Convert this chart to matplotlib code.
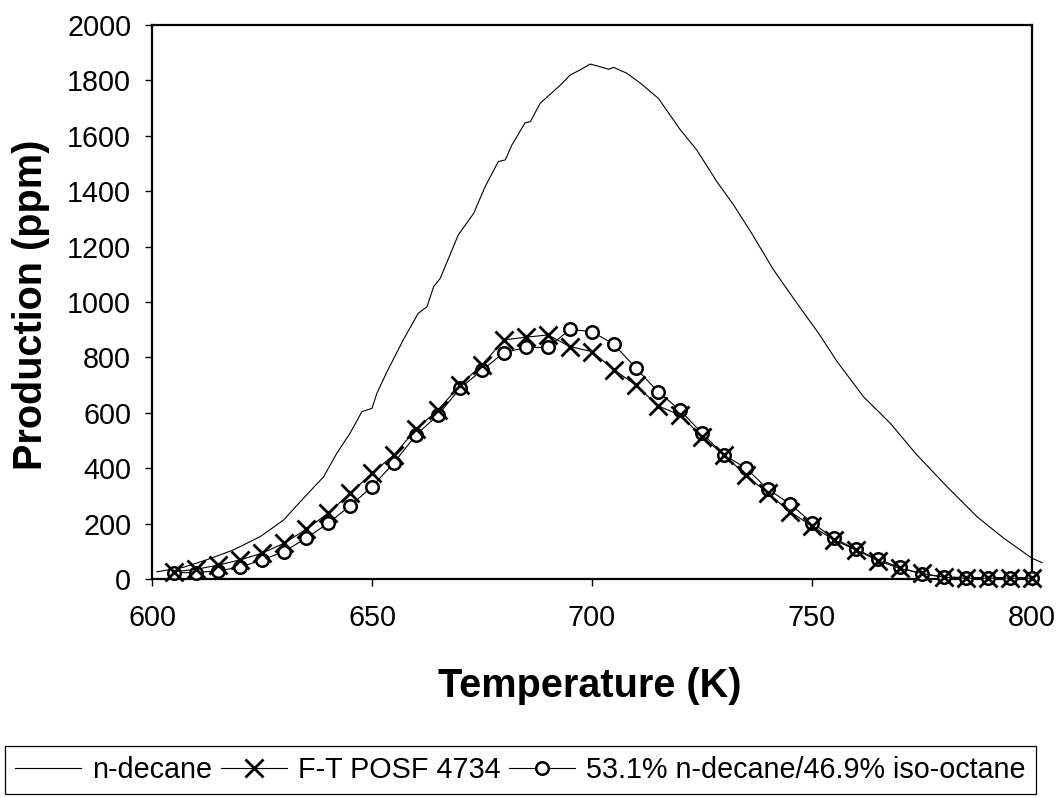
import matplotlib
matplotlib.use("Agg")
import matplotlib.pyplot as plt

# ---- data ----
decane_T = [601.1, 607.1, 612.4, 618.5, 624.6, 629.9, 634.4, 639.0, 642.0, 645.0,
            647.7, 650.0, 651.1, 653.4, 657.1, 660.5, 662.5, 664.0, 665.5, 669.6,
            673.1, 675.7, 678.7, 680.3, 681.8, 684.8, 686.0, 688.2, 692.8, 695.0,
            697.3, 699.6, 701.9, 703.8, 704.9, 707.9, 711.0, 715.1, 720.1, 723.8,
            728.4, 732.2, 736.4, 741.3, 746.6, 751.5, 755.7, 761.7, 767.8, 773.5,
            780.7, 787.5, 793.6, 800.0, 802.3]
decane_ppm = [26, 42, 69, 105, 153, 213, 291, 369, 454, 526,
              604, 616, 670, 748, 863, 959, 983, 1055, 1085, 1242,
              1320, 1416, 1507, 1513, 1567, 1647, 1651, 1717, 1783, 1819,
              1838, 1859, 1849, 1840, 1847, 1826, 1790, 1735, 1621, 1549,
              1434, 1350, 1245, 1115, 995, 887, 785, 658, 562, 454,
              333, 225, 147, 75, 59]

marker_T = [605, 610, 615, 620, 625, 630, 635, 640, 645, 650,
            655, 660, 665, 670, 675, 680, 685, 690, 695, 700,
            705, 710, 715, 720, 725, 730, 735, 740, 745, 750,
            755, 760, 765, 770, 775, 780, 785, 790, 795, 800]
ft_ppm = [26, 35, 50, 69, 93, 129, 179, 237, 309, 382,
          448, 541, 610, 700, 773, 863, 873, 881, 839, 821,
          755, 700, 625, 592, 514, 448, 375, 309, 243, 191,
          141, 105, 66, 38, 20, 6, 3, 3, 3, 3]
blend_ppm = [23, 23, 30, 42, 69, 99, 147, 201, 264, 333,
             420, 520, 592, 688, 754, 817, 836, 836, 901, 893,
             847, 761, 676, 610, 526, 448, 400, 324, 271, 203,
             147, 107, 71, 42, 18, 8, 5, 5, 5, 5]

labels = ["n-decane", "F-T POSF 4734", "53.1% n-decane/46.9% iso-octane"]
x_ticks = [600, 650, 700, 750, 800]
y_ticks = list(range(0, 2001, 200))

plt.rcParams['font.family'] = ['Liberation Sans', 'DejaVu Sans']

fig = plt.figure(figsize=(10.6, 7.98), dpi=100)
ax = fig.add_axes([152 / 1060, 1 - 579 / 798, (1032 - 152) / 1060, (579 - 25) / 798])

l1, = ax.plot(decane_T, decane_ppm, color='black', lw=0.8, clip_on=False, zorder=2)
l3, = ax.plot(marker_T, blend_ppm, color='black', lw=0.8, marker='o', ms=9,
              mfc='white', mec='black', mew=1.8, zorder=3, clip_on=False)
l2, = ax.plot(marker_T, ft_ppm, color='black', lw=0.8, marker='x', ms=13,
              mec='black', mew=2.0, zorder=4, clip_on=False)

ax.set_xlim(600, 800)
ax.set_ylim(0, 2000)
ax.set_xticks(x_ticks)
ax.set_yticks(y_ticks)
ax.tick_params(axis='both', direction='out', length=5, width=1, labelsize=20.7)
ax.tick_params(axis='x', pad=13)
ax.tick_params(axis='y', pad=10)
for s in ax.spines.values():
    s.set_linewidth(1.6)

fig.text(590 / 1060, 1 - 697 / 798, "Temperature (K)", ha='center', va='baseline',
         fontsize=28.5, fontweight='bold')
fig.text(31.5 / 1060, 1 - 305 / 798, "Production (ppm)", ha='center', va='center',
         rotation=90, fontsize=28.5, fontweight='bold')

leg = fig.legend([l1, l2, l3], labels, ncol=3, loc='upper left',
                 bbox_to_anchor=(5 / 1060, 1 - 746 / 798), fontsize=20.7,
                 frameon=True, fancybox=False, edgecolor='black', framealpha=1,
                 handlelength=2.3, handletextpad=0.38, columnspacing=0.3,
                 borderpad=0.35, borderaxespad=0, numpoints=1)
leg.get_frame().set_linewidth(0.9)

fig.savefig("out.png", dpi=100)
